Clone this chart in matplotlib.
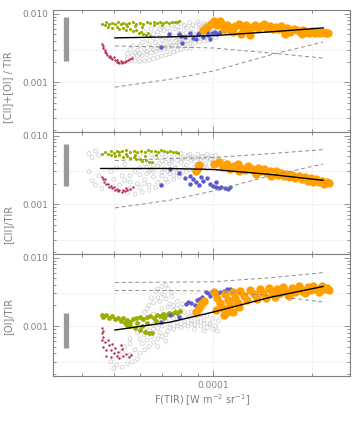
import numpy as np
import matplotlib
matplotlib.use('Agg')
import matplotlib.pyplot as plt
from matplotlib.ticker import FixedLocator, FixedFormatter, LogLocator, NullFormatter

# F(TIR) in units of 1e-5 W m-2 sr-1, line/TIR ratios in units of 1e-3
XU = 1e-5
YU = 1e-3

# ---------------- panel 1 : ([CII]+[OI]) / TIR
p1_gray = [
    (5.5, 2.2), (5.65, 2.1), (5.8, 2.05), (6.0, 2.0), (6.2, 2.05), (6.4, 2.1), (6.6, 2.2),
    (6.8, 2.3), (7.0, 2.4), (7.2, 2.5), (7.4, 2.6), (7.6, 2.75), (7.8, 2.9), (8.0, 3.0),
    (8.3, 3.1), (8.6, 3.2), (5.5, 2.6), (5.7, 2.5), (5.9, 2.4), (6.1, 2.45), (6.3, 2.55),
    (6.5, 2.7), (6.7, 2.8), (6.9, 2.95), (7.1, 3.05), (7.3, 3.15), (7.5, 3.3), (7.7, 3.4),
    (7.9, 3.5), (8.2, 3.6), (8.5, 3.7), (8.8, 3.8), (5.6, 3.0), (5.9, 2.9), (6.2, 3.0),
    (6.5, 3.2), (6.8, 3.4), (7.1, 3.6), (7.4, 3.8), (7.7, 3.95), (8.0, 4.1), (9.1, 3.9),
    (9.4, 4.0), (9.7, 4.1), (6.3, 4.2), (6.6, 4.4), (6.9, 4.6), (7.2, 4.4), (7.5, 4.8),
    (7.8, 4.6), (8.1, 5.0), (8.4, 4.7), (8.7, 5.2), (9.0, 4.8), (9.3, 5.3), (9.6, 5.0),
    (9.9, 5.4), (10.2, 5.1), (6.8, 5.4), (7.1, 5.7), (7.4, 5.5), (7.7, 6.0), (8.0, 5.8),
    (8.3, 6.3), (8.6, 6.1), (8.9, 6.6), (9.2, 6.4), (9.5, 6.8), (7.0, 6.5), (7.5, 6.8),
    (8.0, 7.2), (8.5, 7.4), (9.0, 7.6), (9.4, 7.3), (6.5, 6.0), (6.2, 5.5),
    (5.8, 2.7), (6.0, 2.6), (6.3, 2.8), (6.6, 3.0), (6.9, 3.2), (7.2, 3.3), (7.5, 3.5),
    (7.8, 3.7), (8.1, 3.85), (8.4, 4.0), (8.7, 4.2), (9.0, 4.3), (9.3, 4.5), (9.6, 4.6),
    (9.9, 4.7), (10.2, 4.5), (6.4, 3.6), (6.7, 3.8), (7.0, 4.1), (7.3, 4.2), (7.6, 4.4),
    (7.9, 4.3), (8.2, 4.5), (8.5, 4.9), (8.8, 5.0), (9.1, 5.6), (9.4, 5.8), (9.7, 5.6),
    (10.0, 6.0), (7.3, 6.2), (7.8, 6.5), (8.2, 6.7), (8.7, 6.9), (9.1, 7.0), (9.6, 7.1),
    (6.9, 5.9), (6.6, 5.1), (6.4, 4.8), (8.3, 5.3), (7.9, 5.2), (9.8, 6.5), (10.3, 5.7),
    (6.0, 3.4), (5.7, 3.4), (6.1, 3.8),
]
p1_green = [
    (4.6, 7.2), (4.7, 6.8), (4.75, 7.5), (4.85, 7.0), (4.95, 7.4), (5.05, 7.1), (5.15, 7.5),
    (5.25, 7.2), (5.35, 7.4), (5.45, 7.0), (5.55, 7.3), (5.7, 7.5), (5.85, 7.2), (6.0, 7.4),
    (6.15, 7.2), (6.3, 7.5), (6.45, 7.3), (6.6, 7.5), (6.75, 7.3), (6.9, 7.6), (7.05, 7.4),
    (7.2, 7.6), (7.35, 7.4), (7.5, 7.7), (7.65, 7.5), (7.8, 7.6), (7.9, 7.9),
    (4.8, 6.4), (4.95, 6.2), (5.1, 6.4), (5.2, 6.0), (5.35, 6.2), (5.45, 5.8), (5.6, 6.0),
    (5.7, 5.6), (5.85, 5.8), (5.95, 5.3), (6.05, 5.5), (6.15, 5.1), (6.25, 4.9), (6.35, 5.2),
    (6.45, 4.8), (5.5, 6.6), (5.8, 6.7), (6.1, 6.5), (6.6, 6.8), (7.0, 6.9),
]
p1_red = [
    (4.6, 3.6), (4.63, 3.2), (4.69, 2.8), (4.78, 2.5), (4.91, 2.25), (5.04, 2.1), (5.15, 1.97),
    (5.29, 1.9), (5.40, 1.97), (5.52, 2.1), (5.66, 2.25), (4.65, 3.4), (4.7, 3.0),
    (4.75, 2.65), (4.85, 2.35), (4.95, 2.15), (5.1, 2.0), (5.2, 1.93), (5.35, 1.95),
    (5.45, 2.05), (5.6, 2.2), (4.88, 2.45), (5.0, 2.3), (5.12, 2.1), (5.25, 2.05),
]
p1_blue = [
    (6.95, 3.3), (7.35, 5.1), (7.9, 5.1), (8.05, 3.75), (8.2, 4.6), (8.5, 5.2), (8.7, 4.4),
    (8.9, 4.3), (9.1, 5.2), (9.3, 4.6), (9.45, 5.8), (9.65, 4.9), (9.8, 4.3), (9.95, 5.3),
    (10.15, 5.4), (10.5, 5.5), (10.9, 5.6), (11.3, 5.5), (9.0, 5.0), (8.0, 4.8), (9.6, 5.5),
    (10.3, 5.0),
]
p1_orange = [
    (9.3, 5.8), (9.6, 6.5), (9.9, 7.2), (10.1, 7.8), (10.3, 6.8), (10.6, 7.3), (10.8, 6.0),
    (11.0, 6.9), (11.3, 6.3), (11.5, 5.5), (11.7, 6.7), (12.0, 7.0), (12.3, 6.2), (12.6, 6.8),
    (12.9, 5.6), (13.1, 6.4), (13.4, 6.9), (13.7, 6.1), (14.0, 6.6), (14.3, 7.0), (14.6, 6.3),
    (14.9, 6.7), (15.2, 5.9), (15.5, 6.4), (15.8, 6.0), (16.1, 6.6), (16.4, 5.8), (16.8, 6.1),
    (17.2, 5.5), (17.6, 5.9), (18.0, 5.7), (18.4, 5.4), (18.8, 5.8), (19.2, 5.5), (19.6, 5.3),
    (20.0, 5.6), (20.4, 5.3), (20.8, 5.5), (21.2, 5.2), (21.6, 5.4), (22.0, 5.3), (22.4, 5.2),
    (12.2, 5.0), (13.0, 4.9), (16.5, 5.0), (18.7, 5.1), (10.5, 7.8),
]
p1_fit = [(5.04, 4.44), (7.4, 4.6), (10.1, 4.8), (14.9, 5.44), (21.6, 6.22)]
p1_hi = [(5.04, 3.38), (7.4, 3.27), (10.0, 3.16), (14.9, 2.67), (21.6, 2.25)]
p1_lo = [(5.04, 0.845), (7.4, 1.1), (10.0, 1.45), (14.9, 2.49), (21.6, 3.87)]
p1_bar = (2.04, 9.0)

# ---------------- panel 2 : [CII] / TIR
p2_gray = [
    (4.2, 5.5), (4.3, 4.8), (4.4, 6.0), (4.5, 5.2), (4.3, 2.2), (4.4, 1.9), (4.5, 2.6),
    (4.6, 1.7), (4.2, 3.0), (5.5, 1.45), (5.8, 1.4), (6.1, 1.5), (6.4, 1.6), (6.7, 1.75),
    (7.0, 1.9), (7.3, 2.1), (7.6, 2.3), (7.9, 2.5), (5.6, 1.7), (6.0, 1.75), (6.4, 1.9),
    (6.8, 2.1), (7.2, 2.3), (7.6, 2.6), (8.0, 2.8), (5.2, 1.9), (5.0, 2.3), (5.3, 2.6),
    (6.5, 3.2), (6.8, 3.6), (7.1, 3.3), (7.4, 3.9), (7.7, 3.5), (8.0, 4.1), (8.3, 3.7),
    (8.6, 4.3), (8.9, 3.8), (9.2, 4.4), (9.5, 3.9), (9.8, 4.5), (10.1, 4.0), (10.4, 4.6),
    (10.8, 4.2), (7.0, 4.3), (7.5, 4.6), (8.1, 4.8), (8.7, 4.9), (9.3, 5.0), (9.9, 5.1),
    (6.2, 3.9), (6.0, 3.4), (5.8, 3.0), (6.3, 2.8), (7.0, 2.9), (8.5, 3.2), (9.0, 3.0),
    (9.6, 3.3), (10.3, 3.4), (11.0, 3.6), (7.9, 3.1), (6.0, 5.2), (6.5, 5.3), (7.0, 5.4),
    (7.5, 5.5), (8.0, 5.5), (8.5, 5.3), (9.0, 5.4),
    (6.3, 3.5), (6.6, 3.7), (6.9, 3.9), (7.2, 4.1), (7.5, 4.2), (7.8, 4.4), (8.1, 4.5),
    (8.4, 4.6), (8.7, 4.6), (9.0, 4.7), (9.3, 4.8), (9.6, 4.7), (9.9, 4.6), (10.2, 4.4),
    (10.6, 4.3), (11.0, 4.0), (6.6, 3.0), (7.3, 3.0), (7.7, 3.3), (8.2, 3.4), (8.8, 3.5),
    (9.4, 3.6), (10.0, 3.7), (10.6, 3.8), (6.2, 2.3), (6.6, 2.5), (7.0, 2.6), (7.4, 2.8),
    (7.8, 2.9), (8.3, 3.0), (5.6, 2.1), (5.9, 2.0), (6.2, 2.0), (5.4, 2.2), (5.6, 2.6),
    (6.0, 2.7), (6.4, 3.0), (7.2, 5.0), (7.8, 5.1), (8.4, 5.1), (9.6, 5.4), (10.2, 5.2),
    (6.7, 4.8), (4.9, 3.0), (5.1, 3.4), (5.4, 3.8),
]
p2_green = [
    (4.6, 5.4), (4.7, 5.8), (4.8, 5.5), (4.9, 5.9), (5.0, 5.6), (5.1, 6.0), (5.2, 5.7),
    (5.3, 5.9), (5.45, 6.1), (5.6, 5.8), (5.75, 6.0), (5.9, 5.7), (6.05, 6.0), (6.2, 5.8),
    (6.35, 6.1), (6.5, 5.9), (6.65, 6.0), (6.8, 5.8), (6.95, 6.1), (7.1, 5.9), (7.25, 5.7),
    (7.4, 6.0), (7.55, 5.8), (7.7, 5.7), (7.85, 5.6), (4.9, 5.2), (5.05, 5.0), (5.2, 5.3),
    (5.35, 4.9), (5.5, 5.1), (5.6, 4.7), (5.75, 4.9), (5.85, 4.5), (6.0, 4.6), (6.1, 4.3),
    (6.25, 4.4), (6.4, 4.2), (6.55, 4.1), (5.45, 5.5), (5.8, 5.3), (6.2, 5.1), (6.7, 5.3),
]
p2_red = [
    (4.6, 2.5), (4.63, 2.3), (4.68, 2.1), (4.75, 1.95), (4.85, 1.8), (4.95, 1.7), (5.05, 1.62),
    (5.15, 1.58), (5.3, 1.52), (5.4, 1.55), (5.5, 1.62), (5.6, 1.68), (5.7, 1.75), (4.7, 2.35),
    (4.8, 2.0), (4.9, 1.85), (5.0, 1.75), (5.1, 1.68), (5.2, 1.6), (5.35, 1.6), (5.45, 1.7),
]
p2_blue = [
    (6.95, 1.9), (7.4, 3.3), (7.9, 2.9), (8.2, 2.4), (8.5, 2.6), (8.5, 2.0), (8.7, 2.3),
    (8.9, 2.1), (9.1, 1.9), (9.3, 2.2), (9.6, 2.4), (9.8, 2.0), (10.0, 1.85), (10.2, 1.75),
    (10.4, 1.7), (10.6, 1.8), (10.9, 1.72), (11.1, 1.68), (11.3, 1.75), (9.2, 2.5), (10.2, 2.1),
]
p2_orange = [
    (8.9, 3.1), (9.0, 3.4), (9.1, 3.7), (10.1, 3.9), (10.4, 4.1), (10.7, 3.5), (11.0, 3.8),
    (11.3, 3.3), (11.6, 3.6), (11.9, 3.9), (12.2, 3.4), (12.5, 3.2), (12.8, 3.6), (13.1, 3.3),
    (13.4, 3.0), (13.7, 3.4), (14.0, 3.1), (14.3, 3.3), (14.6, 2.9), (14.9, 3.1), (15.2, 2.8),
    (15.5, 3.0), (15.8, 2.7), (16.1, 2.9), (16.4, 2.6), (16.7, 2.8), (17.0, 2.5), (17.4, 2.7),
    (17.8, 2.4), (18.2, 2.6), (18.6, 2.3), (19.0, 2.5), (19.4, 2.2), (19.8, 2.4), (20.2, 2.1),
    (20.6, 2.3), (21.0, 2.1), (21.4, 2.2), (21.8, 2.0), (22.2, 2.1), (22.5, 2.05), (12.0, 3.0),
    (13.5, 2.8), (15.0, 2.6),
]
p2_fit = [(4.56, 3.32), (7.4, 3.32), (10.0, 3.21), (14.9, 2.72), (21.6, 2.23)]
p2_hi = [(5.04, 4.34), (7.4, 4.64), (10.0, 4.8), (14.9, 5.48), (21.6, 6.27)]
p2_lo = [(5.04, 0.88), (7.4, 1.14), (10.0, 1.55), (14.9, 2.6), (21.6, 3.85)]
p2_bar = (1.82, 7.65)

# ---------------- panel 3 : [OI] / TIR
p3_gray = [
    (4.9, 0.3), (5.1, 0.27), (5.3, 0.25), (5.5, 0.28), (5.7, 0.3), (5.9, 0.33), (5.2, 0.35),
    (5.6, 0.38), (6.0, 0.4), (6.2, 0.45), (6.4, 0.5), (5.8, 0.45), (6.1, 0.55), (6.3, 0.62),
    (6.6, 0.58), (6.8, 0.65), (7.0, 0.7), (7.2, 0.75), (6.5, 0.7), (6.9, 0.8), (7.3, 0.85),
    (7.6, 0.9), (8.0, 0.95), (8.4, 1.0), (8.8, 1.05), (9.2, 1.0), (9.6, 0.95), (10.0, 0.9),
    (10.3, 0.85), (9.8, 1.1), (9.4, 1.2), (9.0, 1.25), (8.6, 1.2), (8.2, 1.15), (7.8, 1.1),
    (7.4, 1.05), (7.0, 1.0), (6.6, 0.9), (6.2, 0.75), (6.8, 1.3), (7.2, 1.5), (7.6, 1.7),
    (8.0, 1.9), (7.0, 1.8), (7.4, 2.1), (7.2, 2.5), (7.0, 3.0), (6.8, 2.6), (6.6, 2.2),
    (7.5, 2.7), (7.8, 2.3), (8.2, 1.6), (8.5, 1.4), (7.3, 3.5), (7.0, 3.8), (6.7, 3.2),
    (6.4, 2.0), (6.2, 1.6), (6.0, 1.2), (7.9, 1.4), (6.9, 1.15),
    (7.6, 1.3), (8.0, 1.3), (8.4, 1.35), (8.8, 1.4), (9.2, 1.45), (9.6, 1.4), (10.0, 1.3),
    (10.4, 1.2), (7.2, 1.2), (6.6, 1.05), (6.3, 0.95), (5.9, 0.8), (5.6, 0.65), (5.4, 0.5),
    (5.3, 0.42), (5.6, 0.55), (6.0, 0.65), (6.4, 0.85), (6.8, 0.95), (7.4, 0.95), (7.8, 1.0),
    (8.2, 1.05), (8.6, 1.1), (9.0, 1.15), (9.4, 1.1), (9.8, 1.05), (10.2, 1.0), (7.6, 2.0),
    (7.8, 1.8), (8.1, 2.1), (7.3, 1.9), (6.9, 2.3), (7.1, 2.8), (7.5, 3.1), (6.8, 3.5),
    (7.2, 4.0), (6.5, 2.6), (6.3, 1.8), (6.6, 1.5), (7.0, 1.4), (8.6, 1.6), (9.0, 1.75),
    (9.4, 1.9), (8.8, 0.9), (9.4, 0.85), (7.2, 0.6), (6.8, 0.5), (5.0, 0.24),
]
p3_green = [
    (4.6, 1.45), (4.65, 1.35), (4.75, 1.45), (4.85, 1.3), (4.95, 1.4), (5.05, 1.25), (5.15, 1.3),
    (5.25, 1.2), (5.35, 1.3), (5.5, 1.22), (5.6, 1.15), (5.7, 1.25), (5.85, 1.3), (6.0, 1.35),
    (6.15, 1.28), (6.3, 1.35), (6.45, 1.4), (6.6, 1.33), (6.75, 1.45), (6.9, 1.4), (7.05, 1.5),
    (7.2, 1.45), (7.35, 1.55), (7.5, 1.5), (7.65, 1.6), (7.8, 1.55), (7.95, 1.65), (5.4, 1.1),
    (5.6, 1.0), (5.8, 0.95), (6.0, 0.88), (6.2, 0.82), (6.4, 0.8), (6.55, 0.78), (5.5, 1.05),
    (5.9, 1.1), (6.1, 1.0), (6.3, 1.1), (6.7, 1.2), (7.1, 1.3),
]
p3_red = [
    (4.6, 0.93), (4.62, 0.85), (4.6, 0.78), (4.65, 0.7), (4.6, 0.63), (4.7, 0.58), (4.65, 0.5),
    (4.75, 0.45), (4.72, 0.37), (4.85, 0.52), (4.9, 0.44), (4.95, 0.55), (5.0, 0.40),
    (5.05, 0.48), (5.1, 0.36), (5.15, 0.42), (5.2, 0.34), (5.3, 0.46), (5.35, 0.36),
    (5.45, 0.39), (5.55, 0.35), (5.65, 0.38), (4.8, 0.62), (4.9, 0.35), (5.25, 0.52),
]
p3_blue = [
    (6.95, 1.15), (7.4, 1.45), (7.9, 1.35), (8.3, 2.1), (8.4, 2.25), (8.6, 2.2), (8.8, 2.0),
    (8.95, 2.4), (9.1, 2.5), (9.2, 2.15), (9.25, 2.65), (9.5, 3.1), (9.65, 3.0), (9.8, 2.8),
    (10.0, 3.0), (10.3, 2.9), (10.5, 3.15), (10.8, 3.3), (11.0, 3.45), (11.3, 3.5), (11.5, 3.3),
]
p3_orange = [
    (8.9, 1.6), (9.05, 1.85), (9.2, 2.1), (9.4, 2.35), (10.1, 3.2), (10.3, 2.6), (10.5, 2.2),
    (10.7, 1.85), (10.9, 2.9), (11.1, 2.4), (11.3, 2.0), (11.5, 3.1), (11.7, 2.6), (11.9, 2.2),
    (12.1, 3.3), (12.4, 2.8), (12.7, 2.4), (13.0, 3.4), (13.3, 2.9), (13.6, 2.5), (13.9, 3.5),
    (14.2, 3.0), (14.5, 2.6), (14.8, 3.6), (15.1, 3.1), (15.4, 2.7), (15.7, 3.5), (16.0, 3.0),
    (16.3, 3.7), (16.7, 3.2), (17.0, 2.8), (17.4, 3.6), (17.8, 3.1), (18.2, 3.8), (18.6, 3.3),
    (19.0, 3.0), (19.4, 3.7), (19.8, 3.4), (20.2, 3.9), (20.6, 3.5), (21.0, 3.2), (21.4, 3.8),
    (21.8, 3.5), (22.2, 3.6), (22.5, 3.4), (10.2, 1.7), (11.0, 1.6), (12.0, 1.9), (10.8, 1.45),
    (11.5, 1.6),
]
p3_fit = [(5.04, 0.875), (7.4, 1.14), (10.0, 1.6), (14.9, 2.63), (21.6, 3.8)]
p3_hi = [(5.04, 4.35), (7.4, 4.4), (10.0, 4.45), (14.9, 5.1), (21.6, 6.05)]
p3_lo = [(5.04, 3.32), (7.4, 3.32), (10.0, 3.25), (14.9, 2.8), (21.6, 2.25)]
p3_bar = (0.48, 1.54)

ylabels = ['[CII]+[OI] / TIR', '[CII]/TIR', '[OI]/TIR']
ylabel_pos = [0.37, 0.24, 0.49]

GRAY = '#cacaca'
GREEN = '#9aad00'
RED = '#b5284c'
BLUE = '#5b5bcd'
ORANGE = '#ffa000'
AXC = '#808080'
BAR_X = 3.59


def xy(pts):
    a = np.array(pts, dtype=float)
    return a[:, 0] * XU, a[:, 1] * YU


def panel(ax, gray, green, red, blue, orange, fit, hi, lo, bar, green_s):
    ax.set_xscale('log')
    ax.set_yscale('log')
    ax.set_xlim(3.27e-5, 2.61e-4)
    ax.set_ylim(1.85e-4, 1.13e-2)

    for v in (5e-5, 1e-4, 2e-4):
        ax.axvline(v, color='#d8d8d8', lw=0.6, ls=(0, (1, 2)), zorder=0)
    for v in (3e-4, 1e-3, 3e-3):
        ax.axhline(v, color='#d8d8d8', lw=0.6, ls=(0, (1, 2)), zorder=0)

    x, y = xy(gray)
    ax.scatter(x, y, s=8, facecolors='none', edgecolors=GRAY, linewidths=0.5, zorder=1)
    x, y = xy(green)
    ax.scatter(x, y, s=green_s, color=GREEN, lw=0, zorder=2)
    x, y = xy(red)
    ax.scatter(x, y, s=3, color=RED, lw=0, zorder=2)
    x, y = xy(blue)
    ax.scatter(x, y, s=10, color=BLUE, lw=0, zorder=3)
    x, y = xy(orange)
    ax.scatter(x, y, s=36, color=ORANGE, lw=0, zorder=3)

    x, y = xy(hi)
    ax.plot(x, y, color='#8c8c8c', lw=0.7, ls=(0, (4, 3)), zorder=4)
    x, y = xy(lo)
    ax.plot(x, y, color='#8c8c8c', lw=0.7, ls=(0, (4, 3)), zorder=4)
    x, y = xy(fit)
    ax.plot(x, y, color='black', lw=1.0, zorder=5)

    ax.plot([BAR_X * XU] * 2, [bar[0] * YU, bar[1] * YU], color='#999999', lw=3.8,
            solid_capstyle='butt', zorder=4)

    ax.yaxis.set_major_locator(FixedLocator([1e-3, 1e-2]))
    ax.yaxis.set_major_formatter(FixedFormatter(['0.001', '0.010']))
    ax.yaxis.set_minor_locator(LogLocator(base=10, subs=np.arange(2, 10)))
    ax.yaxis.set_minor_formatter(NullFormatter())
    ax.xaxis.set_major_locator(FixedLocator([1e-4]))
    ax.xaxis.set_minor_locator(LogLocator(base=10, subs=np.arange(2, 10)))
    ax.xaxis.set_minor_formatter(NullFormatter())
    ax.tick_params(which='both', direction='in', top=True, right=True, colors=AXC,
                   labelsize=6.5, width=0.6)
    ax.tick_params(which='major', length=4.5)
    ax.tick_params(which='minor', length=2.2)
    for s in ax.spines.values():
        s.set_color(AXC)
        s.set_linewidth(0.8)


fig = plt.figure(figsize=(3.54, 4.43), dpi=100)
fig.subplots_adjust(left=0.150, right=0.989, top=0.977, bottom=0.151, hspace=0)
axes = fig.subplots(3, 1, sharex=True)

panel(axes[0], p1_gray, p1_green, p1_red, p1_blue, p1_orange, p1_fit, p1_hi, p1_lo, p1_bar, 5)
panel(axes[1], p2_gray, p2_green, p2_red, p2_blue, p2_orange, p2_fit, p2_hi, p2_lo, p2_bar, 5)
panel(axes[2], p3_gray, p3_green, p3_red, p3_blue, p3_orange, p3_fit, p3_hi, p3_lo, p3_bar, 12)

for ax, lab, pos in zip(axes, ylabels, ylabel_pos):
    ax.set_ylabel(lab, color=AXC, fontsize=7)
    ax.yaxis.set_label_coords(-0.135, pos)

axes[0].tick_params(labelbottom=False)
axes[1].tick_params(labelbottom=False)
axes[2].xaxis.set_major_formatter(FixedFormatter(['0.0001']))
axes[2].set_xlabel('F(TIR) [W m$^{-2}$ sr$^{-1}$]', color=AXC, fontsize=7, labelpad=2)

fig.savefig('out.png', dpi=100)
